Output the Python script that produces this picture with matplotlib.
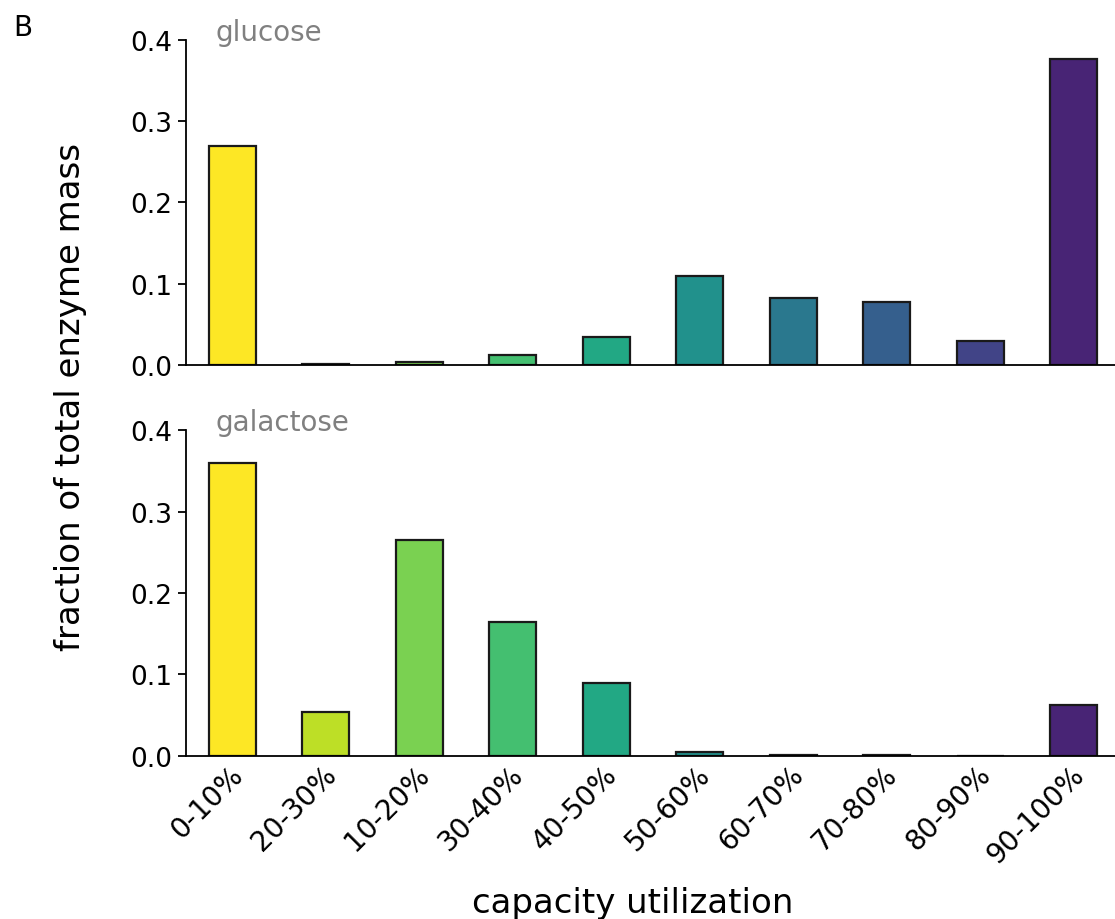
import numpy as np
import matplotlib
matplotlib.use('Agg')
import matplotlib.pyplot as plt
from matplotlib.transforms import ScaledTranslation

categories = ['0-10%', '20-30%', '10-20%', '30-40%', '40-50%',
              '50-60%', '60-70%', '70-80%', '80-90%', '90-100%']
glucose = [0.270, 0.001, 0.004, 0.012, 0.034, 0.110, 0.082, 0.078, 0.029, 0.377]
galactose = [0.359, 0.054, 0.265, 0.164, 0.089, 0.005, 0.0008, 0.0012, 0.0, 0.063]
conditions = ['glucose', 'galactose']

colors = plt.cm.viridis(np.linspace(1.0, 0.1, len(categories)))
x = np.arange(len(categories))

fig = plt.figure(figsize=(11.15, 9.2), dpi=100)
ax_top = fig.add_axes([0.1664, 0.6022, 0.8386, 0.3533])
ax_bot = fig.add_axes([0.1664, 0.1772, 0.8386, 0.3543])

for ax, vals, name in zip([ax_top, ax_bot], [glucose, galactose], conditions):
    ax.bar(x, vals, width=0.5, color=colors, edgecolor='#1a1a1a', linewidth=1.6)
    ax.set_xlim(-0.5, 9.5)
    ax.set_ylim(0, 0.4)
    ax.set_yticks([0.0, 0.1, 0.2, 0.3, 0.4])
    ax.set_yticklabels(['0.0', '0.1', '0.2', '0.3', '0.4'])
    ax.spines['top'].set_visible(False)
    ax.spines['right'].set_visible(False)
    ax.spines['left'].set_linewidth(1.3)
    ax.spines['bottom'].set_linewidth(1.3)
    ax.tick_params(axis='y', direction='out', labelsize=19, width=1.3, length=6)
    ax.text(0.032, 1.0, name, transform=ax.transAxes, fontsize=20,
            color='#808080', va='baseline', ha='left')

ax_top.set_xticks([])
ax_bot.set_xticks(x)
ax_bot.set_xticklabels(categories, rotation=45, ha='right', fontsize=20)
ax_bot.tick_params(axis='x', length=0, pad=3)
shift = ScaledTranslation(0.16, 0, fig.dpi_scale_trans)
for lab in ax_bot.get_xticklabels():
    lab.set_transform(lab.get_transform() + shift)

fig.text(0.567, 0.0076, 'capacity utilization', fontsize=24.5,
         ha='center', va='baseline')
fig.text(0.063, 0.568, 'fraction of total enzyme mass', rotation=90,
         fontsize=24.5, ha='center', va='center')
fig.text(0.0117, 0.961, 'B', fontsize=20, ha='left', va='baseline')

fig.savefig('out.png', dpi=100)
